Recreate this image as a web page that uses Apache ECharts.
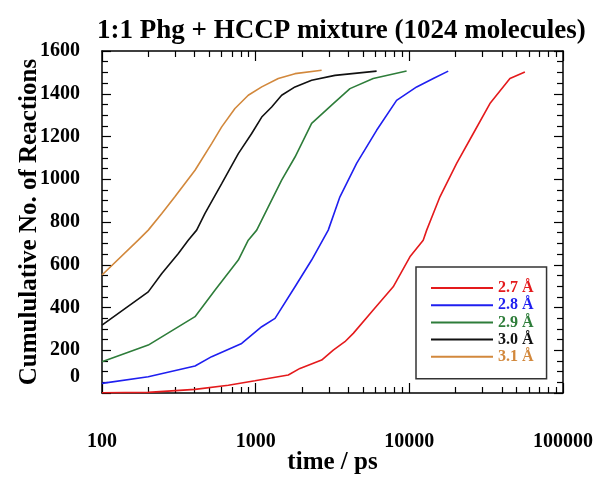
<!DOCTYPE html>
<html>
<head>
<meta charset="utf-8">
<script src="https://cdn.jsdelivr.net/npm/echarts@6.0.0/dist/echarts.min.js"></script>
<style>html,body{margin:0;padding:0}</style>
</head>
<body>
<div id="chart" style="width:594px;height:481px"></div>
<script>
// time (ps) / cumulative reactions
var time27 = [100, 200, 403, 664, 989, 1630, 1942, 2687, 3199, 3807, 4317, 5820, 7853, 10090, 12310, 12970, 15820, 20320, 26070, 33450, 45150, 56490];
var count27 = [1, 3, 17, 36, 57, 84, 115, 154, 201, 240, 279, 388, 497, 637, 715, 762, 918, 1074, 1214, 1354, 1471, 1502];

var time28 = [100, 200, 403, 517, 811, 1095, 1337, 1803, 2313, 2967, 3535, 4539, 6124, 8260, 11160, 14320, 17910];
var count28 = [45, 76, 126, 170, 232, 310, 349, 497, 622, 762, 918, 1074, 1229, 1369, 1432, 1471, 1506];

var time29 = [100, 200, 403, 543, 771, 895, 1016, 1208, 1476, 1803, 2313, 3199, 4107, 5820, 9597];
var count29 = [146, 224, 357, 481, 622, 715, 762, 871, 996, 1104, 1261, 1354, 1424, 1471, 1506];

var time30 = [100, 200, 245, 314, 364, 413, 468, 601, 771, 942, 1095, 1271, 1476, 1803, 2313, 3281, 6124];
var count30 = [318, 473, 559, 653, 715, 762, 840, 980, 1120, 1214, 1291, 1338, 1393, 1432, 1463, 1486, 1506];

var time31 = [100, 172, 200, 245, 298, 403, 517, 601, 733, 895, 1095, 1403, 1803, 2687];
var count31 = [552, 715, 762, 840, 918, 1042, 1167, 1245, 1331, 1393, 1432, 1471, 1494, 1510];

var seriesNames = ['2.7 Å', '2.8 Å', '2.9 Å', '3.0 Å', '3.1 Å'];
var seriesColors = ['#e41a1c', '#1f1ff0', '#2e7d3a', '#111111', '#d2883c'];
var seriesTimes = [time27, time28, time29, time30, time31];
var seriesCounts = [count27, count28, count29, count30, count31];

var xMajor = [100, 1000, 10000, 100000];
var xMinor = [];
[100, 1000, 10000].forEach(function(d) {
  for (var k = 2; k <= 9; k++) xMinor.push(k * d);
});

var FONT = '"Liberation Serif", "DejaVu Serif", serif';

function zip(xs, ys) {
  return xs.map(function(x, i) { return [x, ys[i]]; });
}

function logAxis(position, ticks, len, withLine) {
  var ax = {
    type: 'log', min: 100, max: 100000,
    axisLine: { show: withLine, onZero: false, lineStyle: { color: '#000', width: 1.5 } },
    axisTick: { show: true, inside: true, length: len, customValues: ticks, lineStyle: { color: '#000', width: 1.2 } },
    axisLabel: { show: false },
    splitLine: { show: false }
  };
  if (position) ax.position = position;
  return ax;
}

var xAxes = [
  logAxis(null, xMajor, 10, true),
  logAxis('top', xMajor, 10, true),
  logAxis('bottom', xMinor, 6, false),
  logAxis('top', xMinor, 6, false)
];
xAxes[0].axisLabel = {
  show: true, customValues: xMajor, margin: 39,
  color: '#000', fontFamily: FONT, fontWeight: 'bold', fontSize: 20,
  formatter: function(v) { return String(Math.round(v)); }
};
xAxes[0].name = 'time / ps';
xAxes[0].nameLocation = 'middle';
xAxes[0].nameGap = 57;
xAxes[0].nameMoveOverlap = false;
xAxes[0].nameTextStyle = { color: '#000', fontFamily: FONT, fontWeight: 'bold', fontSize: 25 };

function valAxis(position) {
  var ax = {
    type: 'value', min: 0, max: 1600, interval: 200,
    axisLine: { show: true, onZero: false, lineStyle: { color: '#000', width: 1.5 } },
    axisTick: { show: true, inside: true, length: 9, lineStyle: { color: '#000', width: 1.2 } },
    minorTick: { show: true, splitNumber: 4, length: 6, lineStyle: { color: '#000', width: 1.2 } },
    axisLabel: { show: false },
    splitLine: { show: false }
  };
  if (position) ax.position = position;
  return ax;
}

var yAxes = [valAxis(null), valAxis('right')];
yAxes[0].axisLabel = {
  show: true, margin: 22, color: '#000', fontFamily: FONT, fontWeight: 'bold', fontSize: 20,
  formatter: function(v) { return v === 0 ? '{z|0}' : String(v); },
  rich: { z: { color: '#000', fontFamily: FONT, fontWeight: 'bold', fontSize: 20, padding: [0, 0, 32, 0] } }
};
yAxes[0].name = 'Cumululative No. of Reactions';
yAxes[0].nameLocation = 'middle';
yAxes[0].nameGap = 60;
yAxes[0].nameMoveOverlap = false;
yAxes[0].nameTextStyle = { color: '#000', fontFamily: FONT, fontWeight: 'bold', fontSize: 25 };

var chart = echarts.init(document.getElementById('chart'));

chart.setOption({
  animation: false,
  backgroundColor: '#fff',
  title: {
    text: '1:1 Phg + HCCP mixture (1024 molecules)',
    left: 92,
    top: 13,
    textStyle: { color: '#000', fontFamily: FONT, fontWeight: 'bold', fontSize: 27 }
  },
  grid: { left: 102, right: 31, top: 51, bottom: 88, outerBoundsMode: 'none' },
  legend: {
    orient: 'vertical',
    left: 416,
    top: 267,
    padding: [13, 13, 14, 15],
    itemWidth: 62,
    itemHeight: 2,
    itemGap: 1.2,
    icon: 'rect',
    borderColor: '#333',
    borderWidth: 1.5,
    textStyle: { fontFamily: FONT, fontWeight: 'bold', fontSize: 16, lineHeight: 14 },
    data: seriesNames.map(function(n, i) {
      return { name: n, textStyle: { color: seriesColors[i] } };
    })
  },
  xAxis: xAxes,
  yAxis: yAxes,
  series: seriesNames.map(function(n, i) {
    return {
      name: n,
      type: 'line',
      xAxisIndex: 0,
      yAxisIndex: 0,
      showSymbol: false,
      color: seriesColors[i],
      lineStyle: { width: 1.6, color: seriesColors[i] },
      data: zip(seriesTimes[i], seriesCounts[i])
    };
  })
});
</script>
</body>
</html>
